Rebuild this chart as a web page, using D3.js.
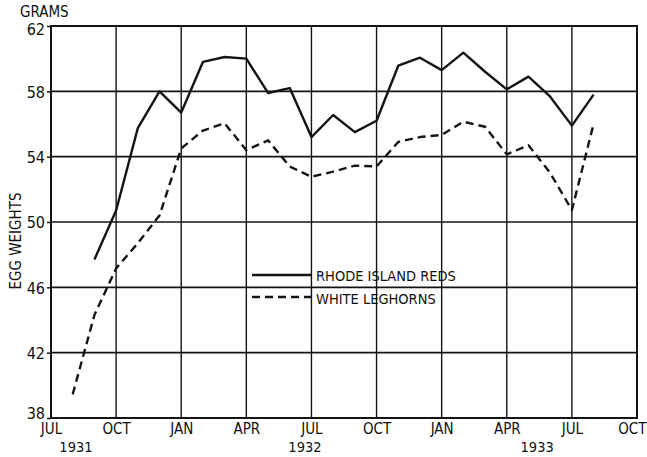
<!DOCTYPE html>
<html>
<head>
<meta charset="utf-8">
<script src="https://cdn.jsdelivr.net/npm/d3@7"></script>
<style>
  html, body { margin: 0; padding: 0; background: #fff; }
  svg { display: block; }
  text { font-family: "DejaVu Sans Condensed", "Liberation Sans Narrow", sans-serif; fill: #111; }
</style>
</head>
<body>
<svg id="chart" width="647" height="457"></svg>
<script>
// ---- data ----
// month index 0 = JUL 1931 (values plotted at start of each month)
const quarterLabels = ["JUL", "OCT", "JAN", "APR", "JUL", "OCT", "JAN", "APR", "JUL", "OCT"];
const yearLabels = ["1931", "1932", "1933"];
const yTicks = [38, 42, 46, 50, 54, 58, 62];

const redsStart = 2; // SEP 1931
const rhodeIslandReds = [47.7, 50.7, 55.75, 58.0, 56.7, 59.8, 60.1, 60.0, 57.9, 58.2, 55.2, 56.55,
  55.5, 56.2, 59.57, 60.06, 59.3, 60.37, 59.2, 58.12, 58.9, 57.67, 55.9, 57.8];

const leghornsStart = 1; // AUG 1931
const whiteLeghorns = [39.45, 44.3, 47.16, 48.7, 50.4, 54.5, 55.6, 56.04, 54.4, 55.0, 53.4, 52.77,
  53.08, 53.45, 53.4, 54.9, 55.2, 55.33, 56.14, 55.83, 54.14, 54.7, 53.0, 50.73, 56.0];

const seriesNames = ["RHODE ISLAND REDS", "WHITE LEGHORNS"];

// ---- layout ----
const mLeft = 51, mRight = 637, mTop = 26, mBottom = 418;
const svg = d3.select("#chart");
const FONT = '"DejaVu Sans Condensed", "Liberation Sans Narrow", sans-serif';

const x = d3.scaleLinear().domain([0, 27]).range([mLeft, mRight]);
const y = d3.scaleLinear().domain([38, 62]).range([mBottom, mTop]);

const ink = "#141414";

// grid: vertical quarter lines
const quarterIdx = d3.range(0, 28, 3);
svg.append("g").selectAll("line").data(quarterIdx.slice(1, -1)).join("line")
  .attr("x1", d => x(d)).attr("x2", d => x(d))
  .attr("y1", mTop).attr("y2", mBottom)
  .attr("stroke", ink).attr("stroke-width", 1.4);

// grid: horizontal
svg.append("g").selectAll("line").data(yTicks.slice(1, -1)).join("line")
  .attr("x1", mLeft).attr("x2", mRight)
  .attr("y1", d => y(d)).attr("y2", d => y(d))
  .attr("stroke", ink).attr("stroke-width", 1.6);

// frame
svg.append("rect")
  .attr("x", mLeft).attr("y", mTop)
  .attr("width", mRight - mLeft).attr("height", mBottom - mTop)
  .attr("fill", "none").attr("stroke", ink).attr("stroke-width", 2);

// y axis ticks + labels
const yAxis = d3.axisLeft(y).tickValues(yTicks).tickSize(4).tickPadding(2).tickFormat(d3.format("d"));
const gy = svg.append("g").attr("transform", `translate(${mLeft},0)`).call(yAxis);
gy.select(".domain").remove();
gy.selectAll(".tick line").attr("stroke", ink).attr("stroke-width", 1.5);
gy.selectAll(".tick text")
  .style("font-family", FONT)
  .style("font-size", "16px").attr("fill", ink).attr("dy", "0.36em");
gy.selectAll(".tick").filter(d => d === 62).select("text").attr("dy", "0.5em");
gy.selectAll(".tick").filter(d => d === 38).select("text").attr("dy", "0.05em");

// x axis labels
const xAxis = d3.axisBottom(x).tickValues(quarterIdx).tickSize(0).tickPadding(5)
  .tickFormat((d, i) => quarterLabels[i]);
const gx = svg.append("g").attr("transform", `translate(0,${mBottom})`).call(xAxis);
gx.select(".domain").remove();
gx.selectAll(".tick text")
  .style("font-family", FONT)
  .style("font-size", "15px").attr("fill", ink);
gx.selectAll(".tick").filter(d => d === 27).select("text")
  .attr("text-anchor", "end").attr("x", 646 - mRight);

// year labels
const yearPos = [1.15, 11.7, 22.4];
svg.append("g").selectAll("text").data(yearLabels).join("text")
  .attr("x", (d, i) => x(yearPos[i])).attr("y", 452)
  .attr("text-anchor", "middle").style("font-size", "14.5px").text(d => d);

// axis titles
svg.append("text").attr("x", 20).attr("y", 17).style("font-size", "15px").text("GRAMS");
svg.append("text")
  .attr("transform", "translate(21,241) rotate(-90)")
  .attr("text-anchor", "middle").style("font-size", "15px").text("EGG WEIGHTS");

// series lines
const line = d3.line().x(d => x(d[0])).y(d => y(d[1]));
const redsPts = rhodeIslandReds.map((v, i) => [redsStart + i, v]);
const legPts = whiteLeghorns.map((v, i) => [leghornsStart + i, v]);

svg.append("path").datum(redsPts).attr("d", line)
  .attr("fill", "none").attr("stroke", ink).attr("stroke-width", 2.4)
  .attr("stroke-linejoin", "round");
svg.append("path").datum(legPts).attr("d", line)
  .attr("fill", "none").attr("stroke", ink).attr("stroke-width", 2.4)
  .attr("stroke-dasharray", "8,5").attr("stroke-linejoin", "round");

// legend
const lg = svg.append("g");
lg.append("line").attr("x1", 252).attr("x2", 312).attr("y1", 275).attr("y2", 275)
  .attr("stroke", ink).attr("stroke-width", 2.4);
lg.append("line").attr("x1", 252).attr("x2", 312).attr("y1", 297).attr("y2", 297)
  .attr("stroke", ink).attr("stroke-width", 2.4).attr("stroke-dasharray", "8,5");
lg.append("text").attr("x", 316).attr("y", 281).style("font-size", "14.5px").text(seriesNames[0]);
lg.append("text").attr("x", 316).attr("y", 304).style("font-size", "14.5px").text(seriesNames[1]);
</script>
</body>
</html>
